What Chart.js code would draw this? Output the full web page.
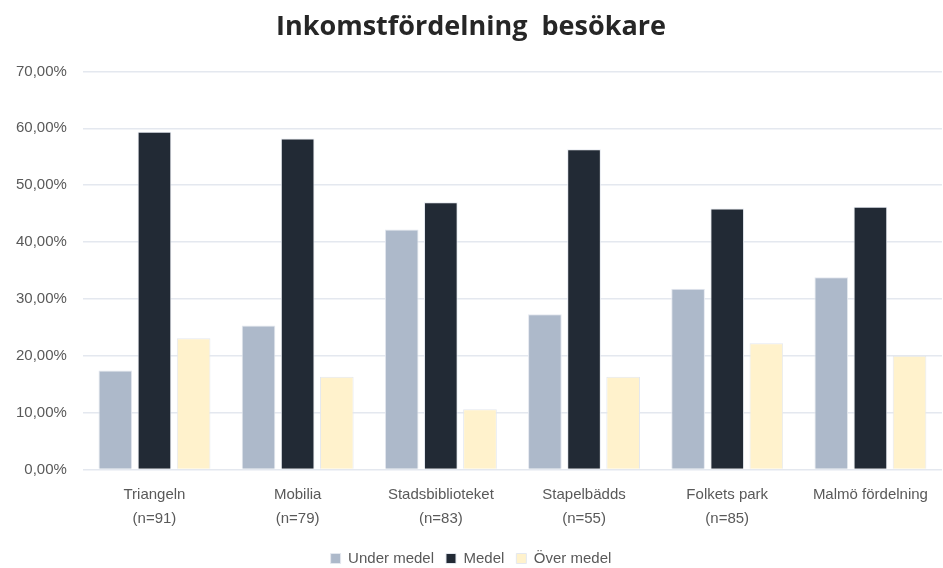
<!DOCTYPE html>
<html>
<head>
<meta charset="utf-8">
<script src="https://cdn.jsdelivr.net/npm/chart.js@4"></script>
<style>
  html, body { margin: 0; padding: 0; background: #fff; }
  #wrap { width: 943px; height: 568px; }
</style>
</head>
<body>
<div id="wrap"><canvas id="incomeChart"></canvas></div>
<script>
// categories (two-line labels)
const categories = [
    ["Triangeln", "(n=91)"],
    ["Mobilia", "(n=79)"],
    ["Stadsbiblioteket", "(n=83)"],
    ["Stapelbädds", "(n=55)"],
    ["Folkets park", "(n=85)"],
    ["Malmö fördelning"]
];

// values in percent
const underMedel = [17.4, 25.3, 42.2, 27.3, 31.8, 33.8];
const medel = [59.4, 58.2, 47.0, 56.3, 45.9, 46.2];
const overMedel = [23.1, 16.3, 10.6, 16.3, 22.2, 20.0];

const seriesNames = ["Under medel", "Medel", "Över medel"];
const yTicks = [0, 10, 20, 30, 40, 50, 60, 70];

const FONT = "'Liberation Sans', sans-serif";

function makeSet(label, data, color) {
    return {
        label: label,
        data: data,
        backgroundColor: color,
        borderColor: "#e4e8ef",
        borderWidth: 1,
        barPercentage: 0.86,
        categoryPercentage: 0.82
    };
}

const ctx = document.getElementById('incomeChart');

new Chart(ctx, {
    type: 'bar',
    data: {
        labels: categories,
        datasets: [
            makeSet(seriesNames[0], underMedel, "#adb9ca"),
            makeSet(seriesNames[1], medel, "#222a35"),
            makeSet(seriesNames[2], overMedel, "#fff2cc")
        ]
    },
    options: {
        responsive: true,
        maintainAspectRatio: false,
        animation: false,
        layout: { padding: { left: 0, right: 1, top: 4, bottom: -8 } },
        plugins: {
            title: {
                display: true,
                text: "Inkomstfördelning  besökare",
                color: "#262626",
                font: { family: "'Open Sans', sans-serif", size: 27, weight: 'bold' },
                padding: { top: 7, bottom: 28 }
            },
            legend: {
                position: 'bottom',
                labels: {
                    boxWidth: 10,
                    boxHeight: 10,
                    color: "#595959",
                    font: { family: FONT, size: 15 },
                    padding: 12
                }
            },
            tooltip: { enabled: false }
        },
        scales: {
            x: {
                grid: { display: false },
                border: { display: false },
                afterFit: axis => { axis.height += 3; },
                ticks: {
                    color: "#595959",
                    font: { family: FONT, size: 15, lineHeight: 1.55 },
                    padding: 6,
                    maxRotation: 0,
                    autoSkip: false
                }
            },
            y: {
                min: 0,
                max: 70,
                afterBuildTicks: axis => { axis.ticks = yTicks.map(v => ({ value: v })); },
                grid: { color: "#e4e8ef", lineWidth: 1.5, drawTicks: false },
                border: { display: false },
                ticks: {
                    color: "#595959",
                    font: { family: FONT, size: 15 },
                    padding: 16,
                    callback: v => v.toFixed(2).replace('.', ',') + '%'
                }
            }
        }
    }
});
</script>
</body>
</html>
